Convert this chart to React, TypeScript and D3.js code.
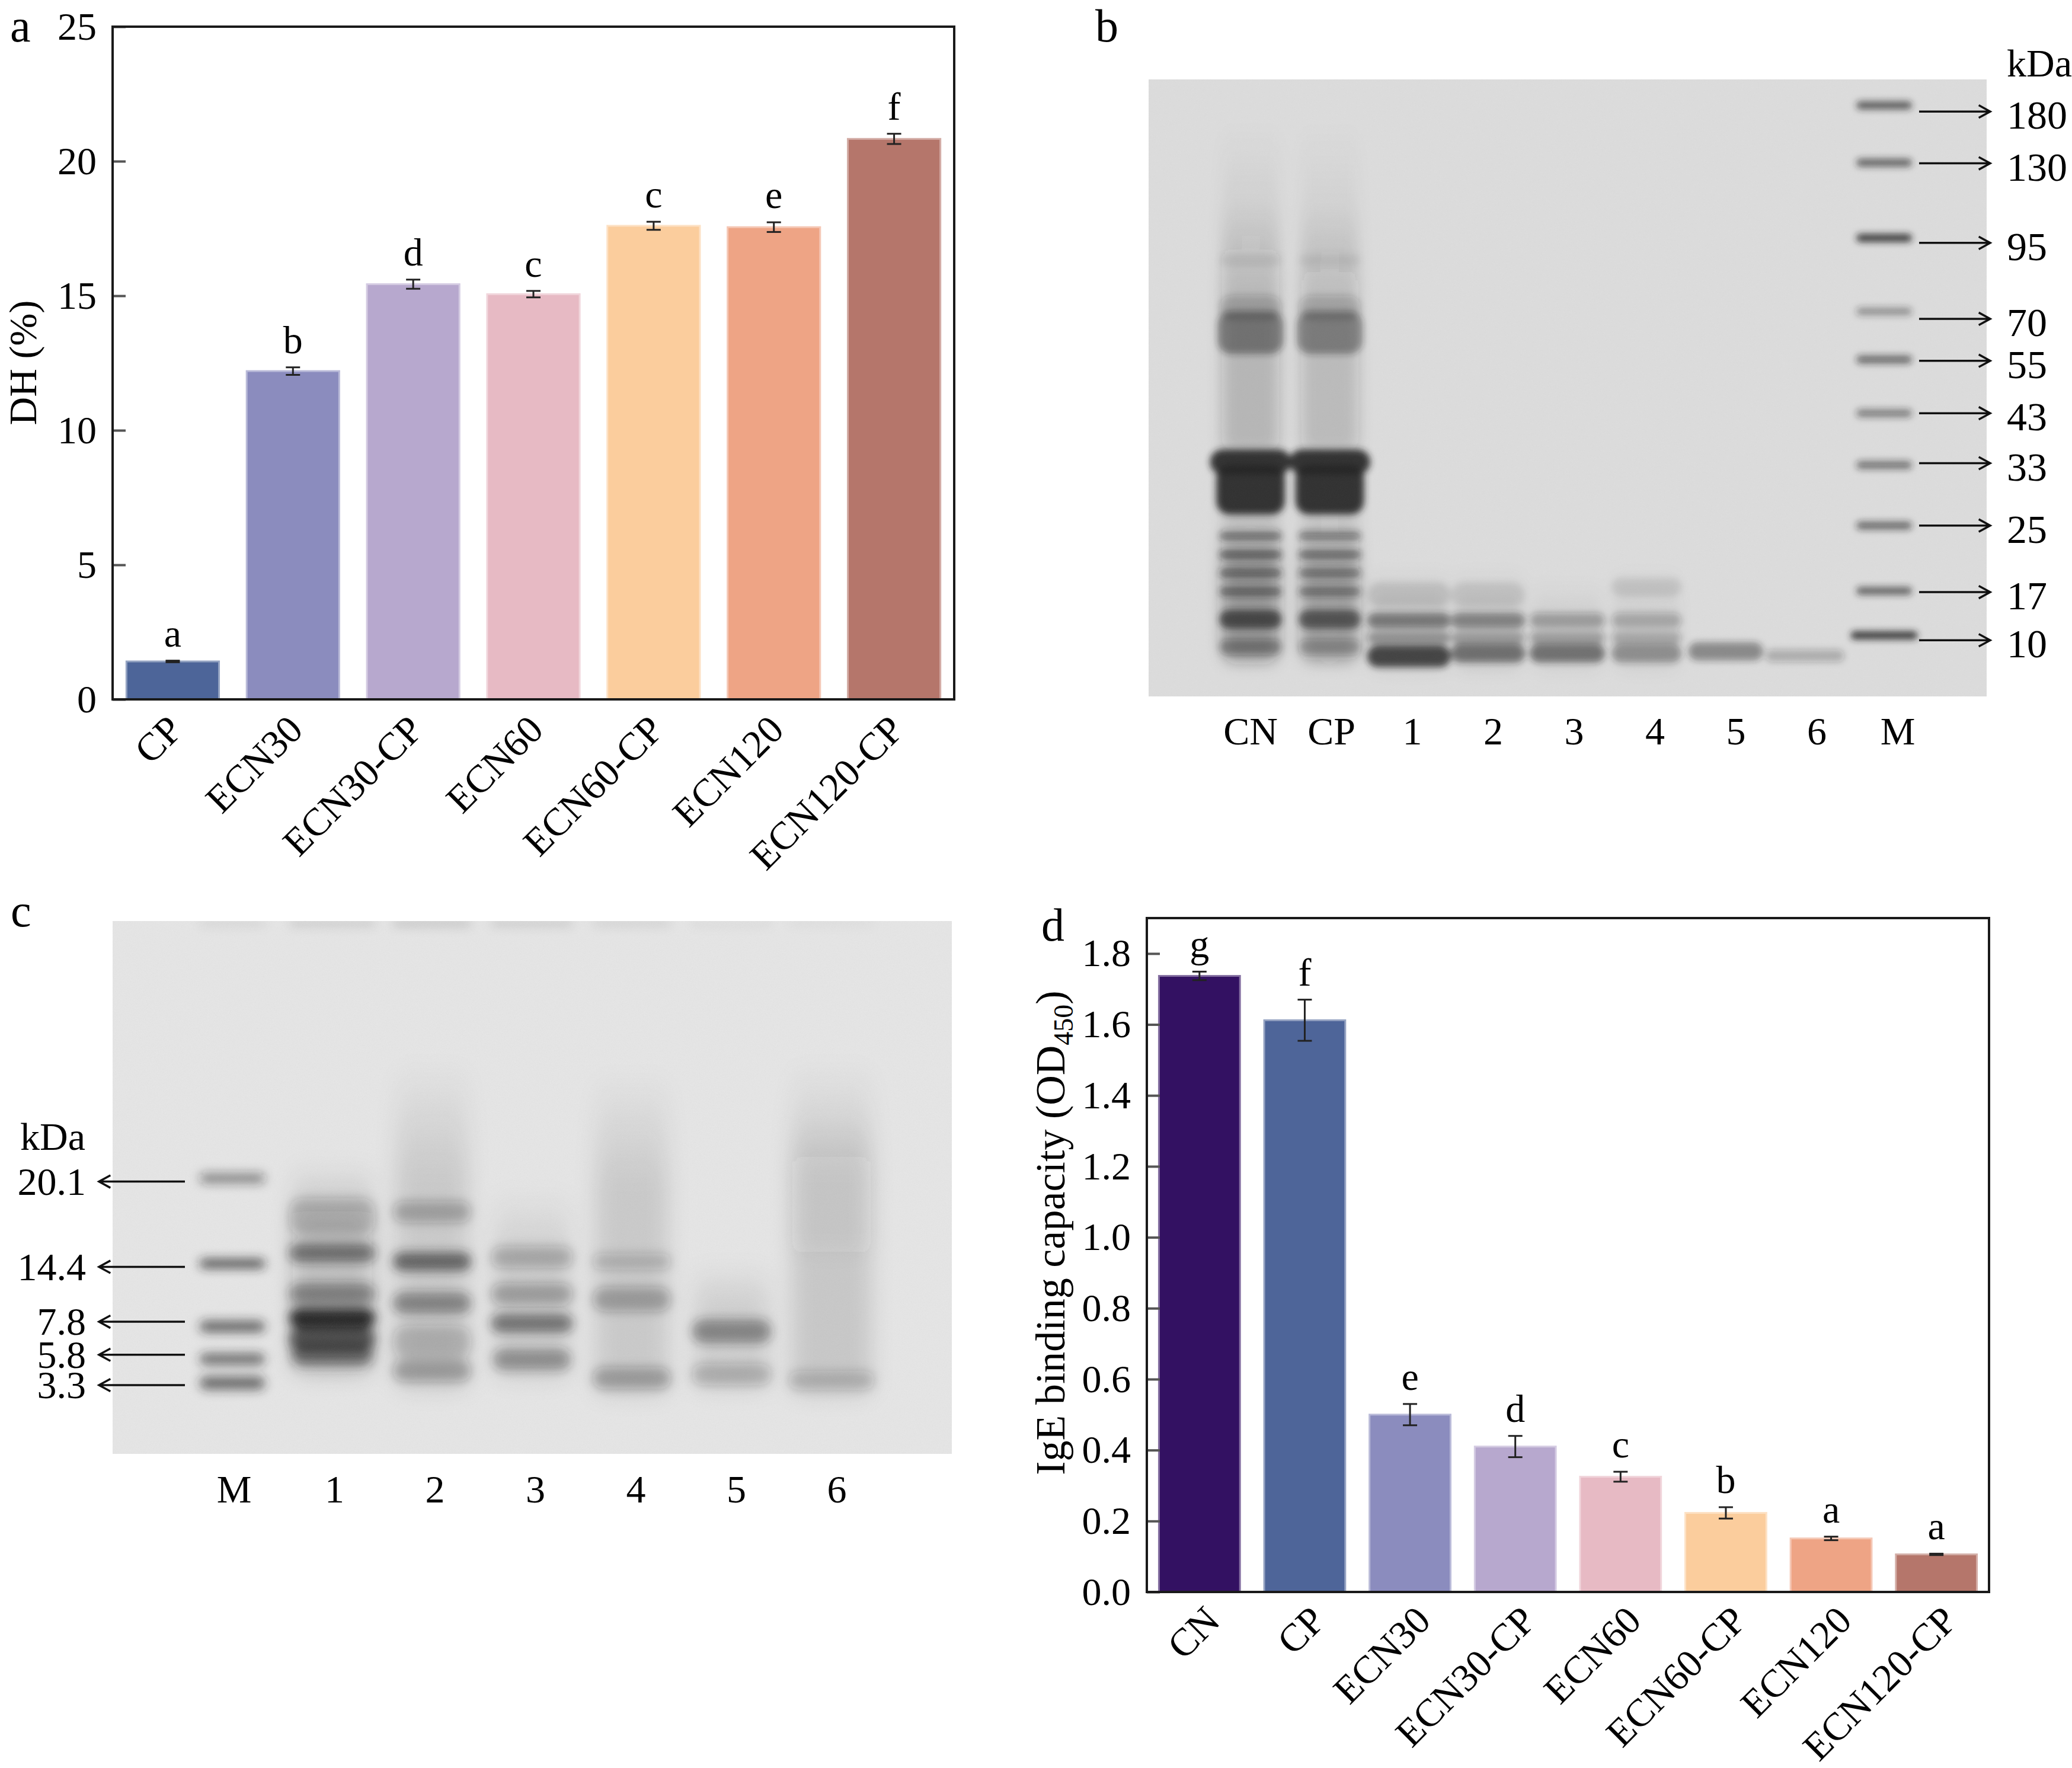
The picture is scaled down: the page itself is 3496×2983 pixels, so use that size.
import { useEffect, useRef } from 'react';
import * as d3 from 'd3';

const FONT = "'Liberation Serif', 'Times New Roman', serif";

// panel a: degree of hydrolysis
const dhGroups = ['CP', 'ECN30', 'ECN30-CP', 'ECN60', 'ECN60-CP', 'ECN120', 'ECN120-CP'];
const dhMeans = [1.41, 12.2, 15.43, 15.06, 17.6, 17.55, 20.83];
const dhSd = [0.03, 0.14, 0.17, 0.12, 0.15, 0.18, 0.19];
const dhLetters = ['a', 'b', 'd', 'c', 'c', 'e', 'f'];
const dhColors = ['#4d6599', '#8b8cbe', '#b7a8ce', '#e7bac4', '#fbcd9d', '#eea485', '#b5766b'];
const dhTicks = [0, 5, 10, 15, 20, 25];

// panel d: IgE binding
const igeGroups = ['CN', 'CP', 'ECN30', 'ECN30-CP', 'ECN60', 'ECN60-CP', 'ECN120', 'ECN120-CP'];
const igeMeans = [1.737, 1.612, 0.5, 0.41, 0.325, 0.223, 0.151, 0.106];
const igeSd = [0.012, 0.058, 0.03, 0.03, 0.014, 0.016, 0.005, 0.002];
const igeLetters = ['g', 'f', 'e', 'd', 'c', 'b', 'a', 'a'];
const igeColors = ['#331162', '#4e6599', '#8b8cbe', '#b7a8ce', '#e7bac4', '#fbcd9d', '#eea485', '#b5766b'];
const igeTicks = [0, 0.2, 0.4, 0.6, 0.8, 1.0, 1.2, 1.4, 1.6, 1.8];

// panel b: SDS-PAGE (rf = relative migration from the gel top)
const sdsLanes = ['CN', 'CP', '1', '2', '3', '4', '5', '6', 'M'];
const sdsMarkerKda = ['180', '130', '95', '70', '55', '43', '33', '25', '17', '10'];
const sdsMarkerRf = [0.042, 0.135, 0.257, 0.376, 0.454, 0.541, 0.625, 0.723, 0.829, 0.901];
const sdsMarkerInk = [0.7, 0.65, 0.85, 0.4, 0.6, 0.5, 0.55, 0.6, 0.65, 0.9];
const sdsLabelRf = [0.052, 0.136, 0.265, 0.388, 0.456, 0.541, 0.622, 0.723, 0.831, 0.909];
// [lane, rf, thickness (rf), ink, width factor]
const sdsBands: [string, number, number, number, number][] = [
  ['CN', 0.293, 0.02, 0.07, 1], ['CN', 0.37, 0.04, 0.2, 1], ['CN', 0.41, 0.07, 0.48, 1.05],
  ['CN', 0.62, 0.04, 0.92, 1.3], ['CN', 0.665, 0.08, 0.92, 1.1], ['CN', 0.74, 0.015, 0.5, 1], ['CN', 0.77, 0.015, 0.55, 1],
  ['CN', 0.8, 0.015, 0.5, 1], ['CN', 0.83, 0.015, 0.5, 1], ['CN', 0.875, 0.03, 0.72, 1], ['CN', 0.92, 0.025, 0.35, 1],
  ['CP', 0.293, 0.02, 0.06, 1], ['CP', 0.37, 0.04, 0.18, 1], ['CP', 0.41, 0.07, 0.44, 1.05],
  ['CP', 0.62, 0.04, 0.92, 1.3], ['CP', 0.665, 0.08, 0.92, 1.1], ['CP', 0.74, 0.015, 0.45, 1], ['CP', 0.77, 0.015, 0.5, 1],
  ['CP', 0.8, 0.015, 0.45, 1], ['CP', 0.83, 0.015, 0.45, 1], ['CP', 0.875, 0.03, 0.65, 1], ['CP', 0.92, 0.025, 0.25, 1],
  ['1', 0.835, 0.04, 0.1, 1], ['1', 0.877, 0.025, 0.5, 1], ['1', 0.905, 0.02, 0.35, 1], ['1', 0.935, 0.035, 0.8, 1],
  ['2', 0.835, 0.04, 0.09, 1], ['2', 0.877, 0.025, 0.45, 1], ['2', 0.905, 0.02, 0.3, 1], ['2', 0.93, 0.03, 0.55, 1],
  ['3', 0.877, 0.025, 0.3, 1], ['3', 0.905, 0.02, 0.3, 1], ['3', 0.93, 0.03, 0.55, 1],
  ['4', 0.823, 0.03, 0.1, 1], ['4', 0.877, 0.025, 0.25, 1], ['4', 0.905, 0.02, 0.25, 1], ['4', 0.93, 0.03, 0.4, 1],
  ['5', 0.927, 0.03, 0.45, 1], ['6', 0.934, 0.02, 0.25, 1],
];
// [lane, rf from, rf to, ink]
const sdsSmears: [string, number, number, number][] = [
  ['CN', 0.07, 0.95, 0.12], ['CN', 0.2, 0.6, 0.1], ['CN', 0.72, 0.94, 0.3],
  ['CP', 0.07, 0.95, 0.1], ['CP', 0.2, 0.6, 0.09], ['CP', 0.72, 0.94, 0.25],
  ['1', 0.79, 0.96, 0.08], ['2', 0.79, 0.96, 0.07], ['3', 0.81, 0.96, 0.05], ['4', 0.79, 0.96, 0.05],
];

// panel c: Tricine-SDS-PAGE
const tricineLanes = ['M', '1', '2', '3', '4', '5', '6'];
const tricineMarkerKda = ['20.1', '14.4', '7.8', '5.8', '3.3'];
const tricineMarkerRf = [0.483, 0.643, 0.761, 0.822, 0.867];
const tricineMarkerThick = [0.017, 0.015, 0.021, 0.021, 0.025];
const tricineMarkerInk = [0.55, 0.9, 0.7, 0.65, 0.65];
const tricineLabelRf = [0.489, 0.649, 0.752, 0.814, 0.871];
const tricineBands: [string, number, number, number, number][] = [
  ['M', 0.004, 0.008, 0.12, 1], ['1', 0.004, 0.008, 0.2, 1], ['2', 0.004, 0.008, 0.25, 1], ['3', 0.004, 0.008, 0.2, 1],
  ['4', 0.004, 0.008, 0.15, 1], ['5', 0.004, 0.008, 0.08, 1], ['6', 0.004, 0.008, 0.06, 1],
  ['1', 0.555, 0.07, 0.22, 1], ['1', 0.623, 0.035, 0.55, 1], ['1', 0.7, 0.04, 0.45, 1], ['1', 0.745, 0.035, 1, 1],
  ['1', 0.785, 0.05, 0.75, 1], ['1', 0.815, 0.04, 0.55, 0.95],
  ['2', 0.546, 0.04, 0.28, 1], ['2', 0.639, 0.035, 0.65, 1], ['2', 0.717, 0.04, 0.45, 1], ['2', 0.79, 0.06, 0.2, 1],
  ['2', 0.844, 0.04, 0.3, 1],
  ['3', 0.631, 0.04, 0.25, 1], ['3', 0.7, 0.04, 0.3, 1], ['3', 0.755, 0.035, 0.55, 1], ['3', 0.823, 0.04, 0.4, 0.95],
  ['4', 0.639, 0.03, 0.2, 1], ['4', 0.71, 0.045, 0.3, 1], ['4', 0.858, 0.04, 0.3, 1],
  ['5', 0.77, 0.045, 0.45, 1], ['5', 0.851, 0.04, 0.22, 1],
  ['6', 0.862, 0.035, 0.2, 1],
];
const tricineSmears: [string, number, number, number][] = [
  ['1', 0.45, 0.85, 0.2], ['2', 0.26, 0.88, 0.12], ['3', 0.5, 0.86, 0.1], ['4', 0.28, 0.89, 0.12],
  ['5', 0.64, 0.88, 0.1], ['6', 0.26, 0.89, 0.13], ['6', 0.36, 0.62, 0.05],
];

type Sel = d3.Selection<SVGGElement, unknown, null, undefined>;
type Band = [string, number, number, number, number];

function drawBarPanel(root: Sel, o: {
  left: number; right: number; top: number; bottom: number; groups: string[]; means: number[]; sd: number[];
  letters: string[]; colors: string[]; yMax: number; ticks: number[]; fmt: (d: number) => string;
  labelDx: number; labelDy: number;
}) {
  const g = root.append('g');
  const x = d3.scaleBand().domain(o.groups).range([o.left, o.right]).paddingInner(0.23).paddingOuter(0.115);
  const y = d3.scaleLinear().domain([0, o.yMax]).range([o.bottom, o.top]);
  const bw = x.bandwidth();

  g.selectAll('rect.bar').data(o.groups).enter().append('rect')
    .attr('x', d => x(d)!).attr('width', bw)
    .attr('y', (_, i) => y(o.means[i])).attr('height', (_, i) => o.bottom - y(o.means[i]))
    .attr('fill', (_, i) => o.colors[i])
    .attr('stroke', (_, i) => d3.interpolateRgb(o.colors[i], '#ffffff')(0.4)).attr('stroke-width', 3);

  const eb = g.selectAll('g.err').data(o.groups).enter().append('g')
    .attr('transform', d => `translate(${x(d)! + bw / 2},0)`)
    .attr('stroke', '#222').attr('stroke-width', 3);
  eb.append('line').attr('y1', (_, i) => y(o.means[i] - o.sd[i])).attr('y2', (_, i) => y(o.means[i] + o.sd[i]));
  eb.append('line').attr('x1', -12).attr('x2', 12)
    .attr('y1', (_, i) => y(o.means[i] - o.sd[i])).attr('y2', (_, i) => y(o.means[i] - o.sd[i]));
  eb.append('line').attr('x1', -12).attr('x2', 12)
    .attr('y1', (_, i) => y(o.means[i] + o.sd[i])).attr('y2', (_, i) => y(o.means[i] + o.sd[i]));

  g.selectAll('text.letter').data(o.groups).enter().append('text')
    .attr('x', d => x(d)! + bw / 2).attr('y', (_, i) => y(o.means[i] + o.sd[i]) - 24)
    .attr('text-anchor', 'middle').attr('font-family', FONT).attr('font-size', 66)
    .text((_, i) => o.letters[i]);

  g.append('g').attr('transform', `translate(${o.left},0)`)
    .call(d3.axisLeft(y).tickValues(o.ticks).tickSize(-22).tickPadding(27).tickFormat(d => o.fmt(d as number)))
    .call(a => a.select('.domain').remove())
    .call(a => a.selectAll('line').attr('stroke', '#555').attr('stroke-width', 4))
    .call(a => a.selectAll('text').attr('font-size', 66).attr('font-family', FONT).attr('fill', '#000'));

  g.append('rect').attr('x', o.left).attr('y', o.top).attr('width', o.right - o.left).attr('height', o.bottom - o.top)
    .attr('fill', 'none').attr('stroke', '#1a1a1a').attr('stroke-width', 4);

  g.selectAll('text.xlab').data(o.groups).enter().append('text')
    .attr('transform', d => `translate(${x(d)! + bw / 2 + o.labelDx},${o.bottom + o.labelDy}) rotate(-45)`)
    .attr('text-anchor', 'end').attr('font-family', FONT).attr('font-size', 66)
    .text(d => d);
}

function drawGel(root: Sel, defs: d3.Selection<SVGDefsElement, unknown, null, undefined>, o: {
  id: string; left: number; right: number; top: number; bottom: number; lanes: string[]; laneRange: [number, number];
  laneWidths: Record<string, number>; bands: Band[]; smears: [string, number, number, number][];
  bg: string; blur: number; grain: number;
}) {
  const x = d3.scalePoint().domain(o.lanes).range(o.laneRange);
  const y = d3.scaleLinear().domain([0, 1]).range([o.top, o.bottom]);
  const gelH = o.bottom - o.top;
  const lw = (l: string) => o.laneWidths[l];
  const ink = '#222';

  defs.append('clipPath').attr('id', `${o.id}-clip`).append('rect')
    .attr('x', o.left).attr('y', o.top).attr('width', o.right - o.left).attr('height', gelH);
  defs.append('filter').attr('id', `${o.id}-band`).attr('x', '-20%').attr('y', '-20%').attr('width', '140%').attr('height', '140%')
    .append('feGaussianBlur').attr('stdDeviation', o.blur);
  defs.append('filter').attr('id', `${o.id}-smear`).attr('x', '-20%').attr('y', '-20%').attr('width', '140%').attr('height', '140%')
    .append('feGaussianBlur').attr('stdDeviation', o.blur * 2);
  const gr = defs.append('filter').attr('id', `${o.id}-grain`);
  gr.append('feTurbulence').attr('type', 'fractalNoise').attr('baseFrequency', 0.7).attr('numOctaves', 2).attr('seed', 4);
  gr.append('feColorMatrix').attr('type', 'saturate').attr('values', 0);

  // smears fade in from their top end
  o.smears.forEach((s, i) => {
    const lg = defs.append('linearGradient').attr('id', `${o.id}-sg${i}`)
      .attr('x1', 0).attr('x2', 0).attr('y1', 0).attr('y2', 1);
    lg.append('stop').attr('offset', 0).attr('stop-color', ink).attr('stop-opacity', 0);
    lg.append('stop').attr('offset', 0.35).attr('stop-color', ink).attr('stop-opacity', s[3]);
    lg.append('stop').attr('offset', 1).attr('stop-color', ink).attr('stop-opacity', s[3]);
  });

  const g = root.append('g').attr('clip-path', `url(#${o.id}-clip)`);
  g.append('rect').attr('x', o.left).attr('y', o.top).attr('width', o.right - o.left).attr('height', gelH).attr('fill', o.bg);

  g.append('g').attr('filter', `url(#${o.id}-smear)`)
    .selectAll('rect').data(o.smears).enter().append('rect')
    .attr('x', d => x(d[0])! - lw(d[0]) * 0.46).attr('width', d => lw(d[0]) * 0.92)
    .attr('y', d => y(d[1])).attr('height', d => y(d[2]) - y(d[1]))
    .attr('rx', 20).attr('fill', (_, i) => `url(#${o.id}-sg${i})`);

  g.append('g').attr('filter', `url(#${o.id}-band)`)
    .selectAll('rect').data(o.bands).enter().append('rect')
    .attr('x', d => x(d[0])! - (lw(d[0]) * d[4]) / 2).attr('width', d => lw(d[0]) * d[4])
    .attr('y', d => y(d[1]) - (d[2] * gelH) / 2).attr('height', d => d[2] * gelH)
    .attr('rx', d => Math.min(22, (d[2] * gelH) / 2)).attr('fill', ink).attr('fill-opacity', d => d[3]);

  g.append('rect').attr('x', o.left).attr('y', o.top).attr('width', o.right - o.left).attr('height', gelH)
    .attr('filter', `url(#${o.id}-grain)`).attr('opacity', o.grain);

  return { y };
}

function arrow(g: Sel, x1: number, y1: number, x2: number, y2: number) {
  const ang = Math.atan2(y2 - y1, x2 - x1);
  const L = 22, a = 0.5;
  g.append('path')
    .attr('d', `M${x1},${y1}L${x2},${y2}M${x2 - L * Math.cos(ang - a)},${y2 - L * Math.sin(ang - a)}L${x2},${y2}L${x2 - L * Math.cos(ang + a)},${y2 - L * Math.sin(ang + a)}`)
    .attr('fill', 'none').attr('stroke', '#111').attr('stroke-width', 3.5);
}

export default function App() {
  const ref = useRef<SVGSVGElement>(null);

  useEffect(() => {
    const svg = d3.select(ref.current!);
    svg.selectAll('*').remove();
    const defs = svg.append('defs');
    const root = svg.append('g') as unknown as Sel;

    // panel a
    drawBarPanel(root, {
      left: 190, right: 1610, top: 45, bottom: 1180, groups: dhGroups, means: dhMeans, sd: dhSd,
      letters: dhLetters, colors: dhColors, yMax: 25, ticks: dhTicks, fmt: d => d3.format('d')(d),
      labelDx: 20, labelDy: 55,
    });
    root.append('text').attr('transform', 'translate(61,612) rotate(-90)').attr('text-anchor', 'middle')
      .attr('font-family', FONT).attr('font-size', 66).text('DH (%)');

    // panel d
    drawBarPanel(root, {
      left: 1935, right: 3356, top: 1549, bottom: 2686, groups: igeGroups, means: igeMeans, sd: igeSd,
      letters: igeLetters, colors: igeColors, yMax: 1.9, ticks: igeTicks, fmt: d => d3.format('.1f')(d),
      labelDx: 38, labelDy: 52,
    });
    const yl = root.append('text').attr('transform', 'translate(1796,2080) rotate(-90)').attr('text-anchor', 'middle')
      .attr('font-family', FONT).attr('font-size', 70);
    yl.append('tspan').text('IgE binding capacity (OD');
    yl.append('tspan').attr('font-size', 46).attr('dy', 14).text('450');
    yl.append('tspan').attr('dy', -14).text(')');

    // panel b
    const b = drawGel(root, defs, {
      id: 'gb', left: 1938, right: 3352, top: 134, bottom: 1175, lanes: sdsLanes, laneRange: [2110, 3179],
      laneWidths: { CN: 105, CP: 105, '1': 141, '2': 125, '3': 127, '4': 118, '5': 126, '6': 133, M: 94 },
      bands: [...sdsBands, ...sdsMarkerRf.map((r, i) => ['M', r, 0.013, sdsMarkerInk[i], i === 9 ? 1.2 : 1] as Band)],
      smears: sdsSmears, bg: '#dcdcdc', blur: 6, grain: 0.05,
    });
    const bLab = d3.scalePoint().domain(sdsLanes).range([2110, 3202]);
    sdsLanes.forEach(l => {
      root.append('text').attr('x', bLab(l)!).attr('y', 1256).attr('text-anchor', 'middle')
        .attr('font-family', FONT).attr('font-size', 66).text(l);
    });
    sdsMarkerKda.forEach((k, i) => {
      arrow(root, 3238, b.y(sdsLabelRf[i]), 3358, b.y(sdsLabelRf[i]));
      root.append('text').attr('x', 3386).attr('y', b.y(sdsLabelRf[i]) + 6).attr('dy', '0.34em')
        .attr('font-family', FONT).attr('font-size', 68).text(k);
    });
    root.append('text').attr('x', 3386).attr('y', 129).attr('font-family', FONT).attr('font-size', 66).text('kDa');

    // panel c
    const c = drawGel(root, defs, {
      id: 'gc', left: 190, right: 1606, top: 1554, bottom: 2453, lanes: tricineLanes, laneRange: [392, 1403],
      laneWidths: { M: 110, '1': 145, '2': 132, '3': 138, '4': 132, '5': 134, '6': 145 },
      bands: [...tricineBands, ...tricineMarkerRf.map((r, i) => ['M', r, tricineMarkerThick[i], tricineMarkerInk[i], 1] as Band)],
      smears: tricineSmears, bg: '#e6e6e6', blur: 9, grain: 0.1,
    });
    const cLab = d3.scalePoint().domain(tricineLanes).range([395, 1412]);
    tricineLanes.forEach(l => {
      root.append('text').attr('x', cLab(l)!).attr('y', 2535).attr('text-anchor', 'middle')
        .attr('font-family', FONT).attr('font-size', 66).text(l);
    });
    tricineMarkerKda.forEach((k, i) => {
      arrow(root, 312, c.y(tricineLabelRf[i]), 167, c.y(tricineLabelRf[i]));
      root.append('text').attr('x', 145).attr('y', c.y(tricineLabelRf[i])).attr('dy', '0.34em').attr('text-anchor', 'end')
        .attr('font-family', FONT).attr('font-size', 66).text(k);
    });
    root.append('text').attr('x', 34).attr('y', 1940).attr('font-family', FONT).attr('font-size', 66).text('kDa');

    // panel letters
    [['a', 17, 70], ['b', 1848, 70], ['c', 18, 1563], ['d', 1757, 1587]].forEach(([t, px, py]) => {
      root.append('text').attr('x', px as number).attr('y', py as number)
        .attr('font-family', FONT).attr('font-size', 78).text(t as string);
    });
  }, []);

  return (
    <>
      <style>{'body{margin:0;background:#fff}'}</style>
      <svg ref={ref} width={3496} height={2983} style={{ display: 'block', background: '#fff' }} />
    </>
  );
}
